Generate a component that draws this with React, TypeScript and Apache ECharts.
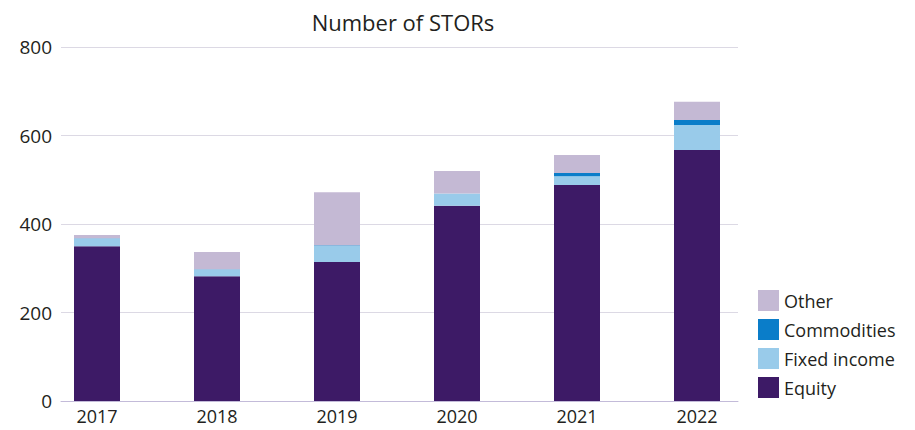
import React, { useEffect, useRef } from "react";
import * as echarts from "echarts";

const years = ["2017", "2018", "2019", "2020", "2021", "2022"];
const equity = [350, 282, 314, 441, 488, 567];
const fixedIncome = [17, 15, 37, 28, 20, 57];
const commodities = [1, 1, 1, 0, 7, 11];
const other = [7, 39, 120, 51, 41, 41];
const yTicks = [0, 200, 400, 600, 800];

const FONT = "'Open Sans', sans-serif";
const TEXT = "#231f20";

export default function App() {
  const ref = useRef<HTMLDivElement>(null);
  useEffect(() => {
    if (!ref.current) return;
    const chart = echarts.init(ref.current, undefined, { renderer: "svg" });
    const barBase = {
      type: "bar" as const,
      stack: "s",
      barWidth: 46,
      xAxisIndex: 0,
      yAxisIndex: 0,
    };
    chart.setOption({
      animation: false,
      textStyle: { fontFamily: FONT },
      title: {
        text: "Number of STORs",
        left: 390,
        top: -2,
        textAlign: "center",
        textStyle: { fontFamily: FONT, fontSize: 22, fontWeight: "normal", color: TEXT },
      },
      legend: {
        orient: "vertical",
        left: 745,
        top: 277,
        itemWidth: 21,
        itemHeight: 21,
        itemGap: 8,
        icon: "rect",
        data: ["Other", "Commodities", "Fixed income", "Equity"],
        textStyle: { fontFamily: FONT, fontSize: 18, color: TEXT, padding: [0, 0, 0, 0] },
      },
      grid: [
        { left: 29, right: 150, top: 39, bottom: 29 },
        { left: 53, right: 169, top: 39, bottom: 29 },
      ],
      xAxis: [
        {
          type: "category",
          gridIndex: 0,
          data: years,
          axisLine: { show: false },
          axisTick: { show: false },
          axisLabel: { fontFamily: FONT, fontSize: 18, color: TEXT, margin: 6 },
        },
        {
          type: "value",
          gridIndex: 1,
          min: 0,
          max: 1,
          axisLine: { show: true, lineStyle: { color: "#c3bbd9", width: 1 } },
          axisTick: { show: false },
          axisLabel: { show: false },
          splitLine: { show: false },
        },
      ],
      yAxis: [
        {
          type: "value",
          gridIndex: 0,
          min: 0,
          max: 800,
          show: false,
          splitLine: { show: false },
        },
        {
          type: "value",
          gridIndex: 1,
          min: yTicks[0],
          max: yTicks[yTicks.length - 1],
          interval: 200,
          axisLine: { show: false },
          axisTick: { show: false },
          axisLabel: { fontFamily: FONT, fontSize: 19, color: TEXT, margin: 9 },
          splitLine: { lineStyle: { color: "#dcd9e4", width: 1 } },
        },
      ],
      series: [
        { ...barBase, name: "Equity", data: equity, itemStyle: { color: "#3d1a66" } },
        { ...barBase, name: "Fixed income", data: fixedIncome, itemStyle: { color: "#99cbea" } },
        { ...barBase, name: "Commodities", data: commodities, itemStyle: { color: "#0a7dc9" } },
        { ...barBase, name: "Other", data: other, itemStyle: { color: "#c4b9d4" } },
      ],
    });
    return () => chart.dispose();
  }, []);
  return <div ref={ref} style={{ width: 899, height: 422 }} />;
}
